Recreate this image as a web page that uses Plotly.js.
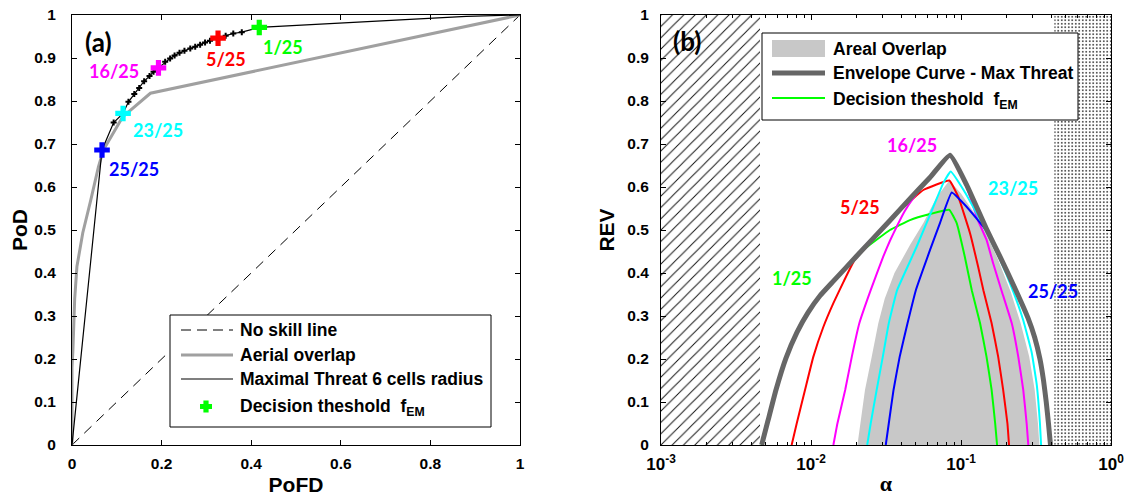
<!DOCTYPE html>
<html>
<head>
<meta charset="utf-8">
<script src="https://cdn.plot.ly/plotly-3.0.1.min.js"></script>
<style>html,body{margin:0;padding:0;background:#fff;}#chart{width:1128px;height:500px;}</style>
</head>
<body>
<div id="chart"></div>
<script>
// ---------- Panel (a): ROC ----------
// Decision thresholds 1/25 ... 25/25 on the Maximal Threat curve
const threshPofd = [0.418, 0.379, 0.360, 0.343, 0.326, 0.308, 0.297, 0.286, 0.275, 0.264, 0.251, 0.240, 0.229, 0.219, 0.208, 0.193, 0.182, 0.173, 0.161, 0.150, 0.139, 0.126, 0.114, 0.093, 0.067];
const threshPod  = [0.971, 0.960, 0.957, 0.952, 0.946, 0.940, 0.936, 0.931, 0.926, 0.922, 0.917, 0.912, 0.906, 0.899, 0.891, 0.877, 0.868, 0.858, 0.846, 0.830, 0.816, 0.798, 0.771, 0.750, 0.686];
// extra end points of the Maximal Threat curve
const mtStartPofd = [0, 0.058];
const mtStartPod  = [0, 0.600];
const mtEndPofd = [0.88, 1];
const mtEndPod  = [0.997, 1];
// Aerial overlap curve
const aoPofd = [0, 0, 0.002, 0.006, 0.011, 0.024, 0.042, 0.059, 0.070, 0.113, 0.175, 1];
const aoPod  = [0, 0.18, 0.22, 0.34, 0.415, 0.493, 0.570, 0.647, 0.686, 0.763, 0.818, 1];
// No skill line
const noSkill = [0, 1];
// highlighted thresholds
const highlightThresh = [1, 5, 16, 23, 25];
const highlightLabels = ['1/25', '5/25', '16/25', '23/25', '25/25'];
const highlightColors = ['#00ff00', '#ff0000', '#ff00ff', '#00ffff', '#0000ff'];

// ---------- Panel (b): REV vs alpha ----------
const envAlpha = [0.00469, 0.00517, 0.00584, 0.00681, 0.00806, 0.00955, 0.01148, 0.0141, 0.0201, 0.0336, 0.0457, 0.0621, 0.0845, 0.109, 0.148, 0.182, 0.232, 0.28, 0.31, 0.336, 0.355, 0.37, 0.383, 0.395];
const envRev   = [0, 0.057, 0.128, 0.202, 0.262, 0.308, 0.347, 0.381, 0.439, 0.522, 0.573, 0.622, 0.674, 0.605, 0.502, 0.438, 0.36, 0.295, 0.25, 0.20, 0.15, 0.10, 0.05, 0];

const t1Alpha = [0.00469, 0.00517, 0.00584, 0.00681, 0.00806, 0.00955, 0.01148, 0.0141, 0.0201, 0.0229, 0.0336, 0.0457, 0.0621, 0.0836, 0.0936, 0.106, 0.118, 0.134, 0.148, 0.160, 0.169, 0.174];
const t1Rev   = [0, 0.057, 0.128, 0.202, 0.262, 0.308, 0.347, 0.381, 0.439, 0.457, 0.500, 0.523, 0.537, 0.547, 0.516, 0.438, 0.36, 0.283, 0.205, 0.128, 0.05, 0];

const t5Alpha = [0.00743, 0.00803, 0.00912, 0.01036, 0.0121, 0.0141, 0.0165, 0.0195, 0.0336, 0.0413, 0.0561, 0.0836, 0.096, 0.115, 0.130, 0.141, 0.160, 0.177, 0.191, 0.204, 0.209];
const t5Rev   = [0, 0.05, 0.128, 0.205, 0.275, 0.33, 0.38, 0.43, 0.520, 0.553, 0.593, 0.615, 0.577, 0.492, 0.415, 0.36, 0.283, 0.205, 0.128, 0.05, 0];

const t16Alpha = [0.0141, 0.0150, 0.0169, 0.0187, 0.0210, 0.025, 0.0303, 0.0336, 0.0373, 0.0420, 0.049, 0.058, 0.0845, 0.109, 0.130, 0.148, 0.164, 0.186, 0.218, 0.241, 0.260, 0.274, 0.281];
const t16Rev   = [0, 0.05, 0.128, 0.205, 0.283, 0.36, 0.438, 0.475, 0.508, 0.543, 0.578, 0.610, 0.672, 0.600, 0.522, 0.477, 0.422, 0.36, 0.283, 0.205, 0.128, 0.05, 0];

const t23Alpha = [0.0237, 0.025, 0.0274, 0.0301, 0.033, 0.0375, 0.0506, 0.0654, 0.0762, 0.0854, 0.104, 0.127, 0.148, 0.18, 0.224, 0.26, 0.296, 0.32, 0.336, 0.342];
const t23Rev   = [0, 0.05, 0.128, 0.205, 0.283, 0.36, 0.461, 0.554, 0.609, 0.636, 0.593, 0.539, 0.495, 0.435, 0.355, 0.29, 0.215, 0.14, 0.05, 0];

const t25Alpha = [0.0315, 0.033, 0.0355, 0.039, 0.044, 0.050, 0.0621, 0.0724, 0.0867, 0.109, 0.148, 0.182, 0.232, 0.28, 0.31, 0.336, 0.355, 0.37, 0.383, 0.395];
const t25Rev   = [0, 0.05, 0.128, 0.205, 0.283, 0.36, 0.453, 0.516, 0.587, 0.554, 0.498, 0.436, 0.358, 0.293, 0.248, 0.198, 0.148, 0.098, 0.048, 0];

// Areal overlap region (closed outline)
const areaAlpha = [0.0204, 0.0229, 0.0254, 0.0281, 0.031, 0.036, 0.0457, 0.0561, 0.0689, 0.0836, 0.100, 0.125, 0.145, 0.175, 0.215, 0.25, 0.285, 0.31, 0.326, 0.333];
const areaRev   = [0, 0.128, 0.205, 0.283, 0.34, 0.40, 0.465, 0.516, 0.577, 0.615, 0.585, 0.535, 0.495, 0.435, 0.355, 0.283, 0.205, 0.128, 0.05, 0];

// excluded alpha ranges (hatched / dotted)
const hatchAlpha = [0.001, 0.00457];
const dotAlpha   = [0.419, 1];

// axis ticks
const linTicks = [0, 0.1, 0.2, 0.3, 0.4, 0.5, 0.6, 0.7, 0.8, 0.9, 1];
const linTickText = ['0', '0.1', '0.2', '0.3', '0.4', '0.5', '0.6', '0.7', '0.8', '0.9', '1'];
const pofdTicks = [0, 0.2, 0.4, 0.6, 0.8, 1];
const pofdTickText = ['0', '0.2', '0.4', '0.6', '0.8', '1'];
const logTicks = [0.001, 0.01, 0.1, 1];
const logTickText = ['10<sup>-3</sup>', '10<sup>-2</sup>', '10<sup>-1</sup>', '10<sup>0</sup>'];
const logMinor = [0.002,0.003,0.004,0.005,0.006,0.007,0.008,0.009,0.02,0.03,0.04,0.05,0.06,0.07,0.08,0.09,0.2,0.3,0.4,0.5,0.6,0.7,0.8,0.9];

// ---------- geometry helpers ----------
const W = 1128, ML = 72, MR = 17, TOP = 15, BOT = 445;
const PW = W - ML - MR;
function px(x) { return (x - ML) / PW; }
function py(y) { return (BOT - y) / (BOT - TOP); }

const SANS = 'Liberation Sans, Arial, sans-serif';
const AX_FONT = {family: SANS, size: 15.5, color: '#000', weight: 700};
const LEG_FONT = {family: SANS, size: 17.5, color: '#000', weight: 700};
const LAB_FONT = (c) => ({family: 'Lato, Calibri, sans-serif', size: 18, color: c, weight: 700});
const PANEL_FONT = {family: 'Lato, Calibri, sans-serif', size: 26, color: '#000', weight: 700};

const traces = [];
// Panel a
traces.push({x: noSkill, y: noSkill, mode: 'lines', line: {color: '#000', width: 1, dash: '10px,7px'}, xaxis: 'x', yaxis: 'y', hoverinfo: 'skip'});
traces.push({x: aoPofd, y: aoPod, mode: 'lines', line: {color: '#a0a0a0', width: 3}, xaxis: 'x', yaxis: 'y'});
const mtX = mtStartPofd.concat(threshPofd.slice().reverse(), mtEndPofd);
const mtY = mtStartPod.concat(threshPod.slice().reverse(), mtEndPod);
traces.push({x: mtX, y: mtY, mode: 'lines', line: {color: '#000', width: 1.2}, xaxis: 'x', yaxis: 'y'});
traces.push({x: threshPofd, y: threshPod, mode: 'markers', marker: {symbol: 'cross', size: 5, color: '#000'}, xaxis: 'x', yaxis: 'y'});
highlightThresh.forEach((t, i) => {
  traces.push({x: [threshPofd[t - 1]], y: [threshPod[t - 1]], mode: 'markers',
    marker: {symbol: 'cross', size: 13, color: highlightColors[i], line: {width: 0}}, xaxis: 'x', yaxis: 'y'});
});

// Panel b
traces.push({x: [hatchAlpha[0], hatchAlpha[1], hatchAlpha[1], hatchAlpha[0], hatchAlpha[0]], y: [0, 0, 1, 1, 0],
  mode: 'lines', fill: 'toself', line: {width: 0, color: 'rgba(0,0,0,0)'}, fillcolor: 'white',
  fillpattern: {shape: '/', size: 8, solidity: 0.12, fgcolor: '#111', bgcolor: 'white'}, xaxis: 'x2', yaxis: 'y2', hoverinfo: 'skip'});
traces.push({x: [dotAlpha[0], dotAlpha[1], dotAlpha[1], dotAlpha[0], dotAlpha[0]], y: [0, 0, 1, 1, 0],
  mode: 'lines', fill: 'toself', line: {width: 0, color: 'rgba(0,0,0,0)'}, fillcolor: 'white',
  fillpattern: {shape: '.', size: 3.5, solidity: 0.2, fgcolor: '#222', bgcolor: 'white'}, xaxis: 'x2', yaxis: 'y2', hoverinfo: 'skip'});
traces.push({x: areaAlpha, y: areaRev, mode: 'lines', fill: 'toself', fillcolor: '#c8c8c8', line: {width: 0, color: 'rgba(0,0,0,0)'}, xaxis: 'x2', yaxis: 'y2'});
const curves = [[t1Alpha, t1Rev, '#00ff00'], [t5Alpha, t5Rev, '#ff0000'], [t16Alpha, t16Rev, '#ff00ff'], [t23Alpha, t23Rev, '#00ffff'], [t25Alpha, t25Rev, '#0000ff']];
curves.forEach(c => traces.push({x: c[0], y: c[1], mode: 'lines', line: {color: c[2], width: 2, shape: 'spline', smoothing: 0.3}, xaxis: 'x2', yaxis: 'y2'}));
traces.push({x: envAlpha, y: envRev, mode: 'lines', line: {color: '#666666', width: 5, shape: 'spline', smoothing: 0.4}, xaxis: 'x2', yaxis: 'y2'});

// ---------- annotations ----------
const ann = [];
function txt(x, y, text, font, xanchor, xref, yref) {
  ann.push({x: x, y: y, text: text, font: font, showarrow: false, xanchor: xanchor || 'center', yanchor: 'middle', xref: xref || 'paper', yref: yref || 'paper'});
}
// panel labels
txt(0.059, 0.938, '(a)', PANEL_FONT, 'center', 'x', 'y');
txt(Math.log10(0.00148), 0.94, '(b)', PANEL_FONT, 'center', 'x2', 'y2');
// threshold labels panel a
const labA = [[0.472, 0.926], [0.343, 0.897], [0.094, 0.870], [0.193, 0.733], [0.139, 0.643]];
labA.forEach((p, i) => txt(p[0], p[1], highlightLabels[i], LAB_FONT(highlightColors[i]), 'center', 'x', 'y'));
// threshold labels panel b
const labB = [[0.0075, 0.388], [0.0212, 0.553], [0.0469, 0.698], [0.221, 0.597], [0.408, 0.357]];
labB.forEach((p, i) => txt(Math.log10(p[0]), p[1], highlightLabels[i], LAB_FONT(highlightColors[i]), 'center', 'x2', 'y2'));

// ---------- legends (drawn) ----------
const shapes = [];
function rectPx(x0, y0, x1, y1, fill, lineColor, lw) {
  shapes.push({type: 'rect', xref: 'paper', yref: 'paper', x0: px(x0), x1: px(x1), y0: py(y1), y1: py(y0),
    fillcolor: fill, line: {color: lineColor || 'rgba(0,0,0,0)', width: lw || 0}, layer: 'above'});
}
function linePx(x0, y0, x1, y1, color, w, dash) {
  shapes.push({type: 'line', xref: 'paper', yref: 'paper', x0: px(x0), x1: px(x1), y0: py(y0), y1: py(y1),
    line: {color: color, width: w, dash: dash || 'solid'}, layer: 'above'});
}
// legend a
rectPx(170, 315, 491, 427, 'white', '#000', 1);
linePx(181, 330, 233, 330, '#000', 1, '10px,6px');
txt(px(238), py(330), 'No skill line', LEG_FONT, 'left');
linePx(181, 355, 233, 355, '#a0a0a0', 3);
txt(px(238), py(355), 'Aerial overlap', LEG_FONT, 'left');
linePx(181, 379, 233, 379, '#000', 1.2);
txt(px(238), py(379), 'Maximal Threat 6 cells radius', LEG_FONT, 'left');
txt(px(238), py(407), 'Decision theshold  f<sub>EM</sub>', LEG_FONT, 'left');
// legend marker (plus)
(function () {
  const cx = 206, cy = 406.5, a = 6, b = 2.6;
  const pts = [[-b, -a], [b, -a], [b, -b], [a, -b], [a, b], [b, b], [b, a], [-b, a], [-b, b], [-a, b], [-a, -b], [-b, -b]];
  const d = pts.map((p, i) => (i ? 'L' : 'M') + px(cx + p[0]).toFixed(5) + ',' + py(cy + p[1]).toFixed(5)).join(' ') + ' Z';
  shapes.push({type: 'path', xref: 'paper', yref: 'paper', path: d, fillcolor: '#00ff00', line: {width: 0}, layer: 'above'});
})();
// legend b
rectPx(762, 33, 1078, 120, 'white', '#000', 1);
rectPx(772, 40, 825, 57, '#c8c8c8');
txt(px(831), py(49), 'Areal Overlap', LEG_FONT, 'left');
linePx(772, 73, 825, 73, '#666666', 5);
txt(px(831), py(73), 'Envelope Curve - Max Threat', LEG_FONT, 'left');
linePx(772, 98, 825, 98, '#00ff00', 2);
txt(px(831), py(100), 'Decision theshold  f<sub>EM</sub>', LEG_FONT, 'left');

const baseAxis = {showline: true, linecolor: '#000', linewidth: 1, mirror: 'allticks', ticks: 'inside', ticklen: 5,
  tickcolor: '#000', showgrid: false, zeroline: false, tickfont: AX_FONT, fixedrange: true};
const TITLE_FONT = {family: SANS, size: 21, color: '#000', weight: 700};

const layout = {
  width: 1128, height: 500,
  margin: {l: ML, r: MR, t: TOP, b: 500 - BOT},
  paper_bgcolor: 'white', plot_bgcolor: 'white', showlegend: false,
  xaxis: Object.assign({}, baseAxis, {domain: [0, px(520)], range: [0, 1], tickmode: 'array', tickvals: pofdTicks, ticktext: pofdTickText,
    anchor: 'y', ticklabelstandoff: 4, title: {text: 'PoFD', font: TITLE_FONT, standoff: 6}}),
  yaxis: Object.assign({}, baseAxis, {domain: [0, 1], range: [0, 1], tickmode: 'array', tickvals: linTicks, ticktext: linTickText,
    anchor: 'x', ticklabelstandoff: 12, title: {text: 'PoD', font: TITLE_FONT, standoff: 0}}),
  xaxis2: Object.assign({}, baseAxis, {domain: [px(661), 1], type: 'log', range: [-3, 0], tickmode: 'array', tickvals: logTicks, ticktext: logTickText,
    anchor: 'y2', ticklabelstandoff: 4, tickfont: {family: SANS, size: 17, color: '#000', weight: 700},
    minor: {ticks: 'inside', ticklen: 3, tickcolor: '#000', showgrid: false, tickvals: logMinor},
    title: {text: 'α', font: {family: 'Liberation Serif, serif', size: 22, color: '#000', weight: 700}, standoff: 2}}),
  yaxis2: Object.assign({}, baseAxis, {domain: [0, 1], range: [0, 1], tickmode: 'array', tickvals: linTicks, ticktext: linTickText,
    anchor: 'x2', ticklabelstandoff: 8, title: {text: 'REV', font: TITLE_FONT, standoff: 6}}),
  annotations: ann,
  shapes: shapes
};

Plotly.newPlot('chart', traces, layout, {staticPlot: true, displayModeBar: false});
</script>
</body>
</html>
